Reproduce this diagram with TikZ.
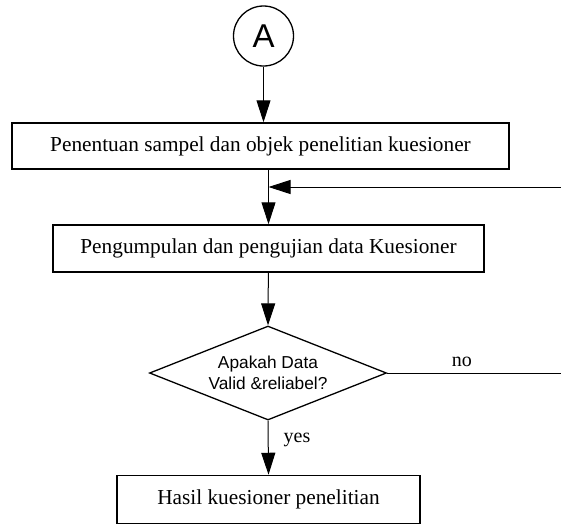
\documentclass[tikz,border=0pt]{standalone}
\usepackage{fontspec}
\setmainfont{Liberation Serif}
\newfontfamily\arialfont{Liberation Sans}
\usetikzlibrary{arrows.meta,shapes.geometric}
\tikzset{
  procbox/.style={draw,line width=1.5pt,inner sep=0pt,font=\fontsize{21.3}{24}\selectfont},
  decision/.style={diamond,draw,line width=1.3pt,inner sep=0pt,aspect=2.52,
    minimum width=237pt,minimum height=94pt,align=center,
    font=\arialfont\fontsize{17.3}{21.5}\selectfont},
  connector/.style={line width=1pt,-{Triangle[length=22pt,width=14pt]}},
  flowlabel/.style={inner sep=0pt,font=\fontsize{20}{22}\selectfont},
}

\begin{document}
\begin{tikzpicture}[x=1pt,y=-1pt]
\path[use as bounding box] (0,0) rectangle (561,525);
\node[circle,draw,line width=1.3pt,minimum size=60pt,inner sep=0pt,
  font=\arialfont\fontsize{33}{33}\selectfont] (conA) at (263.5,36) {A};
\node[procbox,minimum width=497pt,minimum height=46pt] (tentu) at (260.5,146)
  {Penentuan sampel dan objek penelitian kuesioner};
\node[procbox,minimum width=431pt,minimum height=47pt] (kumpul) at (268.5,248.5)
  {Pengumpulan dan pengujian data Kuesioner};
\node[decision] (valid) at (268,373) {Apakah Data\\Valid \&reliabel?};
\node[procbox,minimum width=303pt,minimum height=48pt] (hasil) at (268.5,499.5)
  {Hasil kuesioner penelitian};
\coordinate (balik) at (561,187);

\draw[connector] (conA) -- (conA |- tentu.north);
\draw[connector] (kumpul.north |- tentu.south) -- (kumpul.north);
\draw[connector] (balik) -- (balik -| kumpul.north);
\draw[connector] (kumpul) -- (valid.north);
\draw[line width=1pt] (valid.east) -- node[flowlabel,pos=0.43,above=6pt] {no} (valid.east -| balik);
\draw[connector] (valid.south) -- node[flowlabel,pos=0.36,right=15pt] {yes} (hasil.north);
\end{tikzpicture}
\end{document}
